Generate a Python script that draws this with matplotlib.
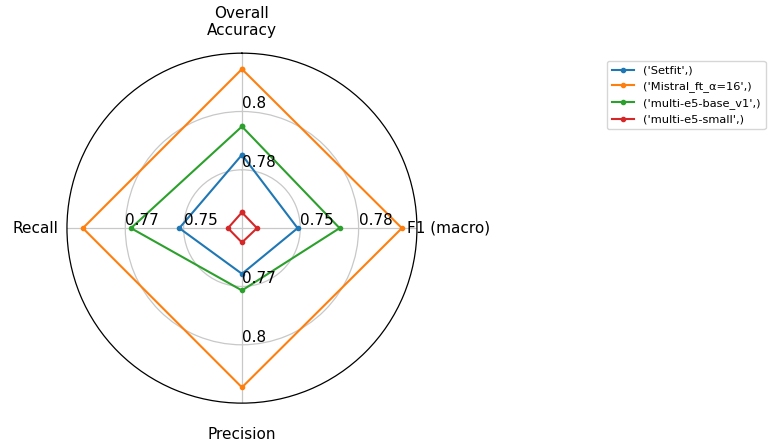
import numpy as np
import matplotlib.pyplot as plt

categories = ["Overall\nAccuracy", "F1 (macro)", "Precision", "Recall"]
models = ["('Setfit',)", "('Mistral_ft_α=16',)", "('multi-e5-base_v1',)", "('multi-e5-small',)"]
# normalised scores per axis (0 = centre, 1 = outer ring)
setfit = [0.419, 0.318, 0.261, 0.358]
mistral = [0.909, 0.914, 0.910, 0.909]
e5_base = [0.581, 0.558, 0.356, 0.634]
e5_small = [0.090, 0.086, 0.082, 0.080]
grid_levels = [1 / 3, 2 / 3]
tick_labels = [["0.78", "0.8"], ["0.75", "0.78"], ["0.77", "0.8"], ["0.75", "0.77"]]

colors = ["#1f77b4", "#ff7f0e", "#2ca02c", "#d62728"]
series = [setfit, mistral, e5_base, e5_small]

angles = np.linspace(0, 2 * np.pi, len(categories), endpoint=False)

fig = plt.figure(figsize=(7.83, 4.43), dpi=100)
ax = fig.add_axes([0.085, 0.09, 0.448, 0.79], polar=True)
ax.set_theta_offset(np.pi / 2)
ax.set_theta_direction(-1)

for name, vals, c in zip(models, series, colors):
    a = np.append(angles, angles[0])
    v = np.append(vals, vals[0])
    ax.plot(a, v, color=c, marker="o", markersize=3, linewidth=1.5, label=name)

ax.set_ylim(0, 1)
ax.set_yticks(grid_levels)
ax.set_yticklabels([])
ax.set_xticks(angles)
ax.set_xticklabels(categories, fontsize=11)
ax.tick_params(axis="x", pad=12)
ax.grid(color="#c8c8c8", linewidth=0.9)
ax.spines["polar"].set_linewidth(0.9)

for ang, labs in zip(angles, tick_labels):
    for r, lab in zip(grid_levels, labs):
        ax.text(ang, r, lab, ha="left", va="bottom", fontsize=11)

fig.legend(loc="upper left", bbox_to_anchor=(0.768, 0.875), fontsize=8.2)

fig.savefig("out.png", dpi=100)
